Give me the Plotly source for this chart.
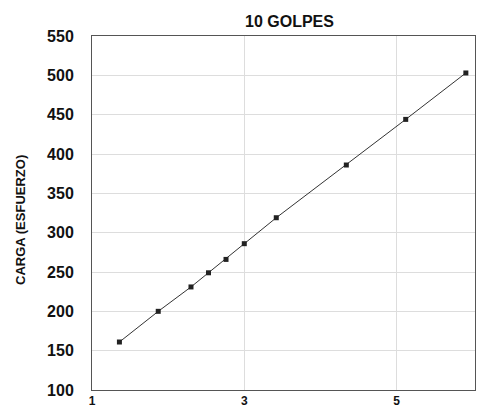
import plotly.graph_objects as go

golpes = [1.36, 1.87, 2.30, 2.53, 2.76, 3.00, 3.42, 4.34, 5.12, 5.91]
carga = [161, 200, 231, 249, 266, 286, 319, 386, 444, 503]
x_ticks = [1, 3, 5]
y_ticks = [100, 150, 200, 250, 300, 350, 400, 450, 500, 550]

fig = go.Figure()
fig.add_trace(go.Scatter(
    x=golpes, y=carga, mode="lines+markers",
    line=dict(color="#333333", width=1),
    marker=dict(symbol="square", size=5, color="#222222"),
    showlegend=False,
))

W, H = 500, 419
fig.update_layout(
    width=W, height=H,
    margin=dict(l=92, r=25, t=36, b=29),
    paper_bgcolor="white", plot_bgcolor="white",
    font=dict(family="Arial, Liberation Sans", color="#111111"),
    annotations=[
        dict(text="<b>10 GOLPES</b>", xref="paper", yref="paper",
             x=(289 - 92) / (475 - 92), y=1 + (36 - 21) / 354,
             xanchor="center", yanchor="middle", showarrow=False,
             font=dict(size=16, color="#111111")),
        dict(text="<b>CARGA (ESFUERZO)</b>", xref="paper", yref="paper",
             x=(20 - 92) / (475 - 92), y=(390 - 220) / 354,
             xanchor="center", yanchor="middle", showarrow=False, textangle=-90,
             font=dict(size=13, color="#111111")),
    ],
)
fig.update_xaxes(
    range=[1, 6.03], tickvals=x_ticks, ticktext=["<b>%d</b>" % v for v in x_ticks],
    tickfont=dict(size=12), showgrid=True, gridcolor="#dddddd", gridwidth=1,
    showline=True, linecolor="#555555", linewidth=1, mirror=True,
    zeroline=False, ticks="", ticklen=0, automargin=False,
)
fig.update_yaxes(
    range=[100, 550], tickvals=y_ticks, ticktext=["<b>%d</b>" % v for v in y_ticks],
    tickfont=dict(size=16), showgrid=True, gridcolor="#dddddd", gridwidth=1,
    showline=True, linecolor="#555555", linewidth=1, mirror=True,
    zeroline=False, ticks="", ticklen=0, ticklabelstandoff=14, automargin=False,
)

fig.write_html("out.html", config={"displayModeBar": False})
with open("out.html", "r", encoding="utf-8") as f:
    html = f.read()
html = html.replace("<head>", "<head><style>html,body{margin:0;padding:0;overflow:hidden}</style>", 1)
with open("out.html", "w", encoding="utf-8") as f:
    f.write(html)
